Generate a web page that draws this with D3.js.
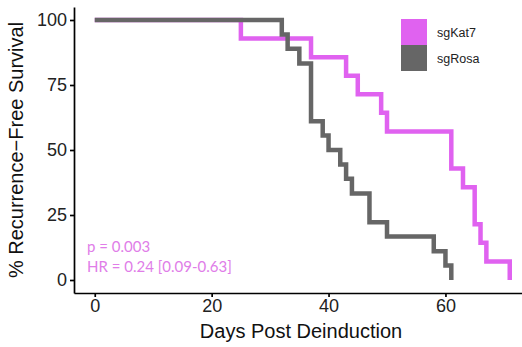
<!DOCTYPE html>
<html>
<head>
<meta charset="utf-8">
<script src="https://cdn.jsdelivr.net/npm/d3@7"></script>
<style>
  html, body { margin: 0; padding: 0; background: #fff; }
  svg { display: block; }
  .axis path, .axis line { stroke: #000; stroke-width: 1.7; }
  .axis text { font-family: "Liberation Sans", Arial, sans-serif; font-size: 18px; fill: #222; }
  .title { font-family: "Liberation Sans", Arial, sans-serif; font-size: 20px; fill: #111; }
  .legend text { font-family: "Liberation Sans", Arial, sans-serif; font-size: 12.5px; fill: #222; }
  .stats { font-family: Lato, "Open Sans", sans-serif; font-size: 15px; fill: #e07de8; }
</style>
</head>
<body>
<svg id="chart" width="522" height="347"></svg>
<script>
// Kaplan-Meier steps: day of each drop and survival (%) after it
const kat7Days = [0, 25, 37, 43, 45, 49, 50, 61, 63, 65, 66, 67, 71];
const kat7Surv = [100, 92.9, 85.7, 78.6, 71.4, 64.3, 57.1, 42.9, 35.7, 21.4, 14.3, 7.1, 0];
const rosaDays = [0, 32, 33, 35, 37, 39, 40, 42, 43, 44, 47, 50, 58, 60, 61];
const rosaSurv = [100, 94.4, 88.9, 83.3, 61.1, 55.6, 50, 44.4, 38.9, 33.3, 22.2, 16.7, 11.1, 5.6, 0];
const groups = ["sgKat7", "sgRosa"];
const colors = ["#e062f0", "#666666"];
const xTicks = [0, 20, 40, 60];
const yTicks = [0, 25, 50, 75, 100];
const statLines = ["p = 0.003", "HR = 0.24 [0.09-0.63]"];

const svg = d3.select("#chart");

// ggplot-like 5% expansion of the data ranges
const xScale = d3.scaleLinear().domain([-3.55, 74.55]).range([74, 530.5]);
const yScale = d3.scaleLinear().domain([-5, 105]).range([293, 7]);

const line = d3.line()
  .x(d => xScale(d[0]))
  .y(d => yScale(d[1]))
  .curve(d3.curveStepAfter);

const series = [
  kat7Days.map((d, i) => [d, kat7Surv[i]]),
  rosaDays.map((d, i) => [d, rosaSurv[i]])
];

// sgKat7 first, sgRosa drawn on top
series.forEach((s, k) => {
  svg.append("path")
    .datum(s)
    .attr("fill", "none")
    .attr("stroke", colors[k])
    .attr("stroke-width", 4.5)
    .attr("stroke-linejoin", "miter")
    .attr("d", line);
});

// x axis
svg.append("g")
  .attr("class", "axis")
  .attr("transform", `translate(0, ${yScale(-5)})`)
  .call(d3.axisBottom(xScale).tickValues(xTicks).tickSize(4).tickSizeOuter(0).tickPadding(2))
  .call(g => g.selectAll("text").attr("fill", "#222"));

// y axis
svg.append("g")
  .attr("class", "axis")
  .attr("transform", `translate(${xScale(-3.55)}, 0)`)
  .call(d3.axisLeft(yScale).tickValues(yTicks).tickSize(4).tickSizeOuter(0).tickPadding(3))
  .call(g => g.selectAll("text").attr("fill", "#222"));

// axis titles
svg.append("text")
  .attr("class", "title")
  .attr("x", 301)
  .attr("y", 338)
  .attr("text-anchor", "middle")
  .text("Days Post Deinduction");

svg.append("text")
  .attr("class", "title")
  .attr("transform", `translate(23, ${yScale(50)}) rotate(-90)`)
  .attr("text-anchor", "middle")
  .text("% Recurrence\u2212Free Survival");

// legend
const legend = svg.append("g").attr("class", "legend").attr("transform", "translate(401, 19)");
groups.forEach((name, i) => {
  legend.append("rect")
    .attr("x", 0)
    .attr("y", i * 26)
    .attr("width", 26)
    .attr("height", 26)
    .attr("fill", colors[i]);
  legend.append("text")
    .attr("x", 36)
    .attr("y", i * 26 + 14)
    .attr("dy", "0.35em")
    .text(name);
});

// stats annotation
statLines.forEach((t, i) => {
  svg.append("text")
    .attr("class", "stats")
    .attr("x", 87)
    .attr("y", 252 + i * 20)
    .text(t);
});
</script>
</body>
</html>
